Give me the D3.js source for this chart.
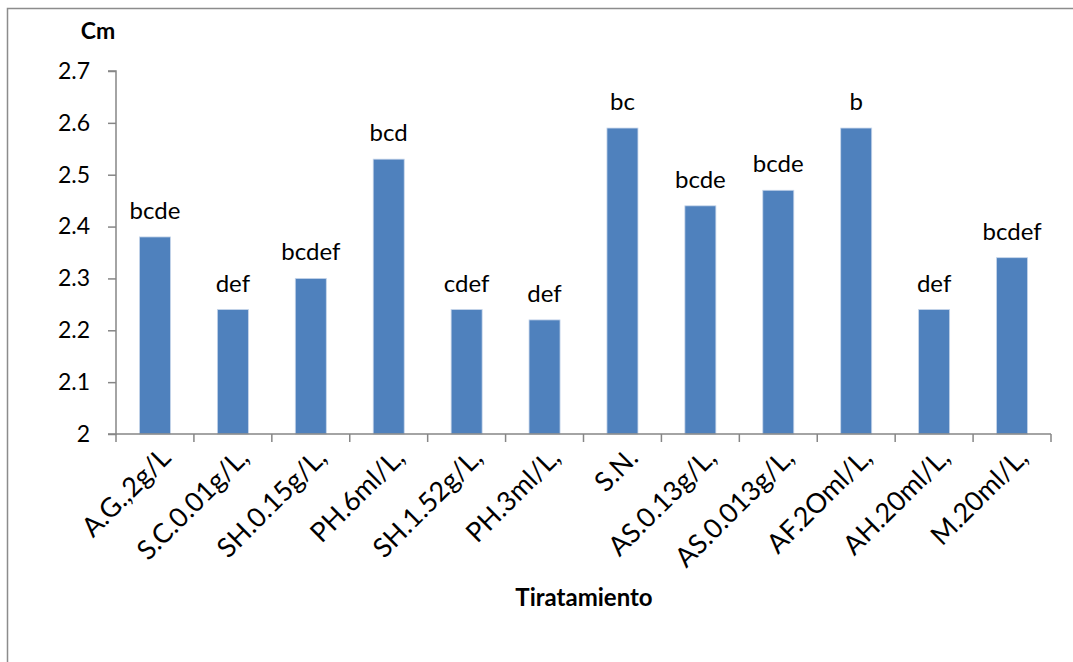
<!DOCTYPE html>
<html><head><meta charset="utf-8">
<script src="https://cdn.jsdelivr.net/npm/d3@7"></script>
<style>body{margin:0;background:#fff}svg{display:block}text{font-family:Lato,"Open Sans",sans-serif}</style>
</head><body><svg id="c" width="1073" height="662"></svg>
<script>
const categories = ["A.G.,2g/L","S.C.0.01g/L,","SH.0.15g/L,","PH.6ml/L,","SH.1.52g/L,","PH.3ml/L,","S.N.","AS.0.13g/L,","AS.0.013g/L,","AF.2Oml/L,","AH.20ml/L,","M.20ml/L,"];
const values = [2.38,2.24,2.30,2.53,2.24,2.22,2.59,2.44,2.47,2.59,2.24,2.34];
const letters = ["bcde","def","bcdef","bcd","cdef","def","bc","bcde","bcde","b","def","bcdef"];
const yTicks = [2,2.1,2.2,2.3,2.4,2.5,2.6,2.7];

const svg = d3.select("#c");
svg.append("path").attr("d","M7.5,700 V8.5 H1100").attr("fill","none").attr("stroke","#8c8c8c").attr("stroke-width",1.5);

const L=116, R=1051, T=71, B=434;
const xb = d3.scaleBand().domain(categories).range([L,R]);
const y = d3.scaleLinear().domain([2,2.7]).range([B,T]);

svg.selectAll("rect.bar").data(values).enter().append("rect")
  .attr("x",(d,i)=>xb(categories[i])+xb.bandwidth()/2-15.5).attr("width",31)
  .attr("y",d=>y(d)).attr("height",d=>B-y(d))
  .attr("fill","#4F81BD").attr("stroke","#c6d5ea").attr("stroke-width",0.8);

svg.selectAll("text.lab").data(values).enter().append("text")
  .attr("x",(d,i)=>xb(categories[i])+xb.bandwidth()/2).attr("y",d=>y(d)-18)
  .attr("text-anchor","middle").attr("font-size",24).attr("fill","#000")
  .text((d,i)=>letters[i]);

const ya = svg.append("g").attr("transform",`translate(${L},0)`)
  .call(d3.axisLeft(y).tickValues(yTicks).tickSize(8).tickPadding(18).tickFormat(d=>d3.format("")(+d.toFixed(1))));
ya.select(".domain").attr("stroke","#868686").attr("stroke-width",1.5).attr("d",`M-8,${T}H0V${B}H-8`);
ya.selectAll(".tick line").attr("stroke","#868686").attr("stroke-width",1.5);
ya.selectAll("text").attr("font-size",23).attr("fill","#000").attr("font-family","Lato,'Open Sans',sans-serif");

const xa = svg.append("g").attr("transform",`translate(0,${B})`);
xa.append("line").attr("x1",L).attr("x2",R).attr("stroke","#868686").attr("stroke-width",1.5);
const edges = categories.map(c=>xb(c)).concat([R]);
xa.selectAll("line.tk").data(edges).enter().append("line")
  .attr("x1",d=>d).attr("x2",d=>d).attr("y1",0).attr("y2",8).attr("stroke","#868686").attr("stroke-width",1.5);
xa.selectAll("text.xl").data(categories).enter().append("text")
  .attr("transform",d=>`translate(${xb(d)+xb.bandwidth()/2+4},${12}) rotate(-45)`)
  .attr("text-anchor","end").attr("font-size",27).attr("fill","#000").attr("dy","0.7em")
  .text(d=>d);

svg.append("text").attr("x",98).attr("y",39).attr("text-anchor","middle").attr("font-size",23).attr("font-weight","bold").text("Cm");
svg.append("text").attr("x",584).attr("y",606).attr("text-anchor","middle").attr("font-size",24).attr("font-weight","bold").text("Tiratamiento");
</script></body></html>
